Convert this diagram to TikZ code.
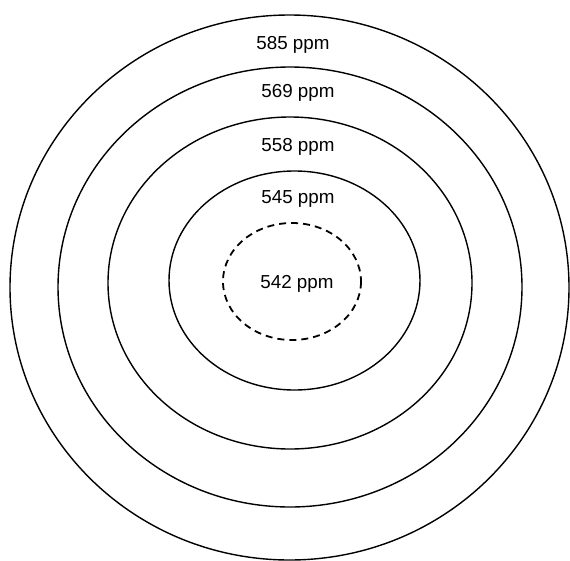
\documentclass[tikz,border=0pt]{standalone}
\usepackage{fontspec}
\setmainfont{Liberation Sans}
\begin{document}
\begin{tikzpicture}[x=1pt,y=-1pt,
 ring/.style={draw,line width=1.4pt},
 inner ring/.style={ring,line width=1.8pt,dash pattern=on 7pt off 5pt},
 ppm/.style={font=\fontsize{18.8}{22}\selectfont,inner sep=0pt}]
\useasboundingbox (0,0) rectangle (570,560);
\draw[ring] (289.5,287.5) ellipse (279.5 and 272.5);
\draw[ring] (290,287) ellipse (232 and 220);
\draw[ring] (290,283) ellipse (182 and 166);
\draw[ring] (294.5,280.5) ellipse (125.5 and 109.5);
\draw[inner ring] (292,281.5) ellipse (69 and 58.5);
\node[ppm] (r585) at (293,45) {585 ppm};
\node[ppm] (r569) at (298,93) {569 ppm};
\node[ppm] (r558) at (298,147) {558 ppm};
\node[ppm] (r545) at (298,199) {545 ppm};
\node[ppm] (r542) at (297,284) {542 ppm};
\end{tikzpicture}
\end{document}
